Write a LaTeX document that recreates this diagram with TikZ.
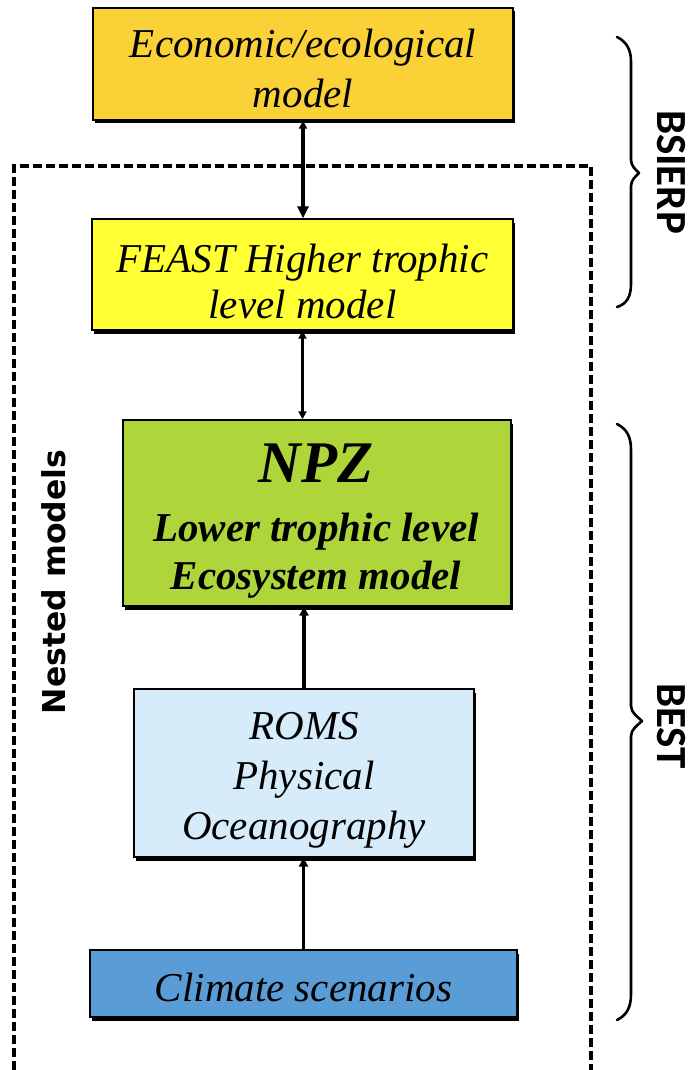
\documentclass[tikz,border=0pt]{standalone}
\usepackage{fontspec}
\setmainfont{Liberation Serif}
\newfontfamily\calib{Carlito}
\newfontfamily\djv{DejaVu Sans}
\usetikzlibrary{arrows.meta,shadows}
\definecolor{econc}{RGB}{250,210,55}
\definecolor{feastc}{RGB}{255,255,51}
\definecolor{npzc}{RGB}{174,214,58}
\definecolor{romsc}{RGB}{215,236,250}
\definecolor{climc}{RGB}{90,156,214}
\begin{document}
\begin{tikzpicture}[x=1pt,y=-1pt,
  box/.style={draw=black, line width=1.4pt, inner sep=0pt,
    drop shadow={shadow xshift=1.5pt, shadow yshift=-3.5pt, fill=black, opacity=1}},
  boxtext/.style={inner sep=0pt, align=center, font=\fontsize{41}{#1}\selectfont\itshape},
  boxtext/.default=48,
  conn/.style={line width=3.2pt, draw=black},
  bracepath/.style={line width=2.6pt, line cap=round, line join=round},
  sidelabel/.style={font=\calib\bfseries\fontsize{43}{43}\selectfont, inner sep=0pt, rotate=-90}
]
\useasboundingbox (0,0) rectangle (690,1070);
\fill[white] (0,0) rectangle (690,1070);

% nested models frame
\draw[line width=3.4pt, dash pattern=on 9pt off 4pt] (14,1070) -- (14,166) -- (591,166) -- (591,1070);

% boxes
\node[box, fill=econc, minimum width=420pt, minimum height=112pt] (econ) at (303,64) {};
\node[boxtext=50] (econt) at (303,68) {Economic/ecological\\model};
\node[box, fill=feastc, minimum width=421pt, minimum height=111pt] (feast) at (302.5,274.5) {};
\node[boxtext=46] (feastt) at (302.5,281) {FEAST Higher trophic\\level model};
\node[box, fill=npzc, minimum width=388pt, minimum height=186pt] (npz) at (317,513) {};
\node[inner sep=0pt, align=center, font=\fontsize{41}{48}\selectfont\bfseries\itshape] (npzt) at (316,521)
  {{\fontsize{59}{48}\selectfont NPZ}\\[10.5pt]Lower trophic level\\Ecosystem model};
\node[box, fill=romsc, minimum width=340pt, minimum height=168pt] (roms) at (304,773) {};
\node[boxtext=50] (romst) at (304,780) {ROMS\\Physical\\Oceanography};
\node[box, fill=climc, minimum width=427pt, minimum height=67pt] (clim) at (303.5,983.5) {};
\node[boxtext] (climt) at (303.5,987.5) {Climate scenarios};

% connectors
\draw[conn, {Triangle[length=8pt,width=8pt]}-{Triangle[length=12pt,width=11pt]}] (econ.south) -- (econ.south |- feast.north);
\draw[conn, {Triangle[length=8pt,width=8pt]}-{Triangle[length=8pt,width=8pt]}] (feast.south) -- (feast.south |- npz.north);
\draw[conn, -{Triangle[length=9pt,width=9pt]}] (roms.north) -- (roms.north |- npz.south);
\draw[conn, -{Triangle[length=9pt,width=9pt]}] (clim.north) -- (clim.north |- roms.south);

% braces
\draw[bracepath] (617,37) .. controls (627,42) and (631,50) .. (631,62) -- (631,160)
  .. controls (631,166) and (636,170) .. (639,173)
  .. controls (636,176) and (631,180) .. (631,186) -- (631,284)
  .. controls (631,296) and (627,304) .. (617,307);
\draw[bracepath] (617,424) .. controls (627,429) and (631,437) .. (631,450) -- (631,706)
  .. controls (631,713) and (638,717) .. (642,721)
  .. controls (638,725) and (631,729) .. (631,736) -- (631,994)
  .. controls (631,1007) and (627,1015) .. (617,1020);

% labels
\node[sidelabel] (bsierp) at (671,172) {BSIERP};
\node[sidelabel] (best) at (671,726) {BEST};
\node[font=\djv\bfseries\fontsize{31.5}{31.5}\selectfont, inner sep=0pt, rotate=90] (nested) at (54,582) {Nested models};
\end{tikzpicture}
\end{document}
